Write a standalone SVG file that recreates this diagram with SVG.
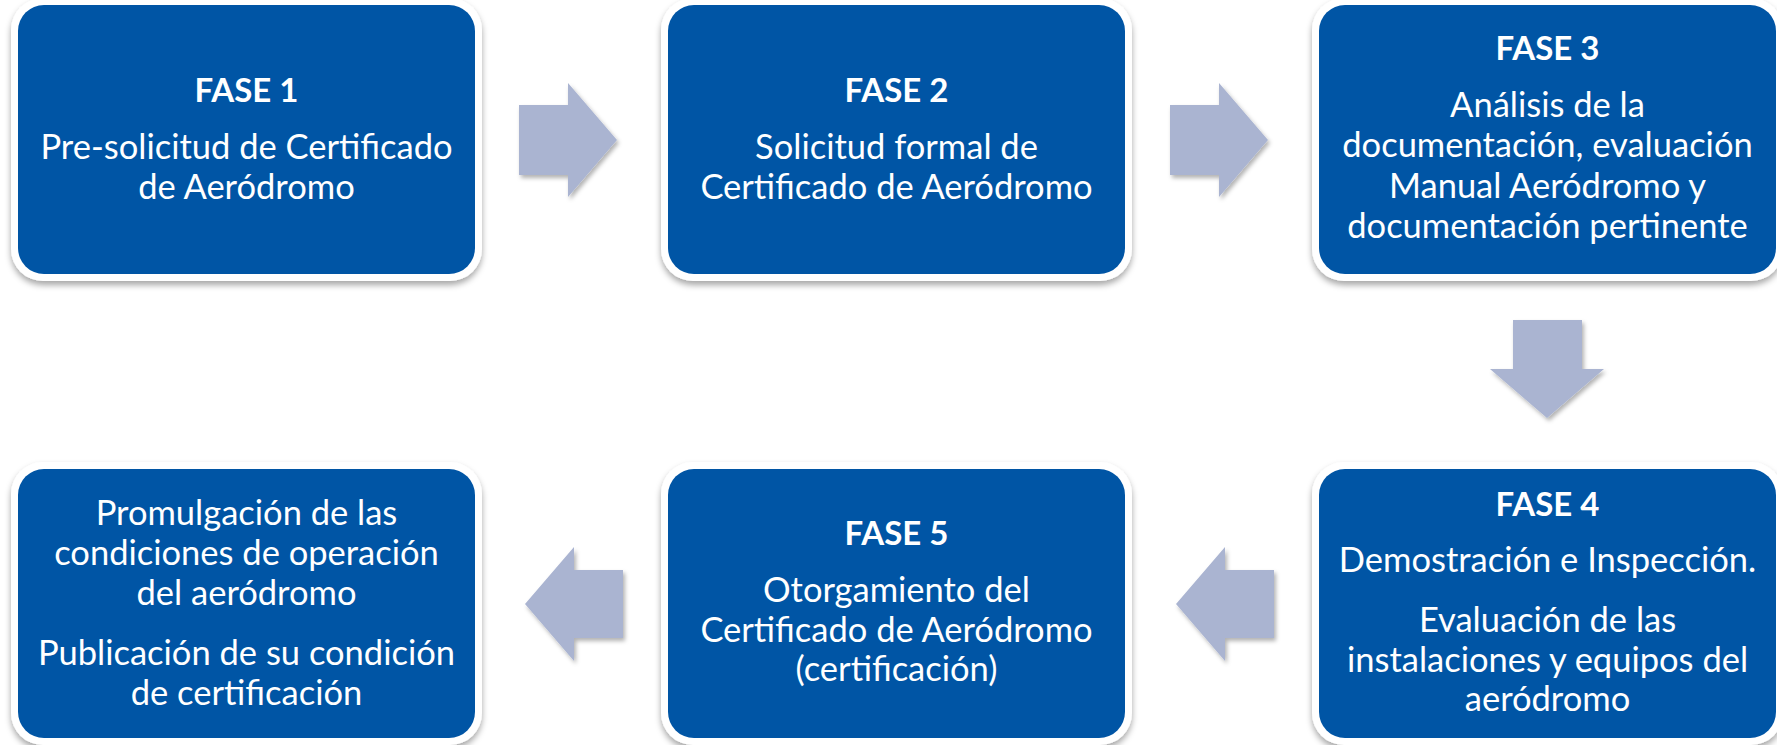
<svg xmlns="http://www.w3.org/2000/svg" width="1777" height="745" viewBox="0 0 1777 745">
<defs>
<filter id="bsh" x="-5%" y="-5%" width="110%" height="112%">
<feDropShadow dx="0" dy="4" stdDeviation="3" flood-color="#000" flood-opacity="0.35"/>
</filter>
<filter id="ash" x="-10%" y="-10%" width="125%" height="125%">
<feDropShadow dx="2" dy="3" stdDeviation="2" flood-color="#000" flood-opacity="0.3"/>
</filter>
</defs>
<style>
.outer{fill:#ffffff;filter:url(#bsh)}
.box{fill:#0055A5}
.t{font-family:Lato,"Liberation Sans",sans-serif;font-size:34.5px;fill:#ffffff;text-anchor:middle}
.h{font-weight:bold;font-size:33px}
.arrow{fill:#AAB4D1;filter:url(#ash)}
</style>
<rect width="1777" height="745" fill="#ffffff"/>

<g id="connectors">
<polygon class="arrow" points="519,105 568,105 568,83 617,140 568,197 568,175 519,175"/>
<polygon class="arrow" points="1170,105 1219,105 1219,83 1268,140 1219,197 1219,175 1170,175"/>
<polygon class="arrow" points="1513,320 1582,320 1582,369 1604,369 1547,418 1490,369 1513,369"/>
<polygon class="arrow" points="1274,570 1225,570 1225,547 1176,604 1225,661 1225,638 1274,638"/>
<polygon class="arrow" points="623,570 574,570 574,547 525,604 574,661 574,638 623,638"/>
</g>

<g id="fase1">
<rect class="outer" x="11" y="-2" width="471" height="283" rx="32"/>
<rect class="box" x="18" y="5" width="457" height="269" rx="26"/>
<text class="t h" x="246.5" y="102">FASE 1</text>
<text class="t" x="246.5" y="159">Pre-solicitud de Certificado</text>
<text class="t" x="246.5" y="199">de Aeródromo</text>
</g>

<g id="fase2">
<rect class="outer" x="661" y="-2" width="471" height="283" rx="32"/>
<rect class="box" x="668" y="5" width="457" height="269" rx="26"/>
<text class="t h" x="896.5" y="102">FASE 2</text>
<text class="t" x="896.5" y="159">Solicitud formal de</text>
<text class="t" x="896.5" y="199">Certificado de Aeródromo</text>
</g>

<g id="fase3">
<rect class="outer" x="1312" y="-2" width="471" height="283" rx="32"/>
<rect class="box" x="1319" y="5" width="457" height="269" rx="26"/>
<text class="t h" x="1547.5" y="60">FASE 3</text>
<text class="t" x="1547.5" y="117">Análisis de la</text>
<text class="t" x="1547.5" y="157">documentación, evaluación</text>
<text class="t" x="1547.5" y="198">Manual Aeródromo y</text>
<text class="t" x="1547.5" y="238">documentación pertinente</text>
</g>

<g id="fase4">
<rect class="outer" x="1312" y="462" width="471" height="283" rx="32"/>
<rect class="box" x="1319" y="469" width="457" height="269" rx="26"/>
<text class="t h" x="1547.5" y="516">FASE 4</text>
<text class="t" x="1547.5" y="572">Demostración e Inspección.</text>
<text class="t" x="1547.5" y="632">Evaluación de las</text>
<text class="t" x="1547.5" y="672">instalaciones y equipos del</text>
<text class="t" x="1547.5" y="711">aeródromo</text>
</g>

<g id="fase5">
<rect class="outer" x="661" y="462" width="471" height="283" rx="32"/>
<rect class="box" x="668" y="469" width="457" height="269" rx="26"/>
<text class="t h" x="896.5" y="545">FASE 5</text>
<text class="t" x="896.5" y="602">Otorgamiento del</text>
<text class="t" x="896.5" y="642">Certificado de Aeródromo</text>
<text class="t" x="896.5" y="681">(certificación)</text>
</g>

<g id="promulgacion">
<rect class="outer" x="11" y="462" width="471" height="283" rx="32"/>
<rect class="box" x="18" y="469" width="457" height="269" rx="26"/>
<text class="t" x="246.5" y="525">Promulgación de las</text>
<text class="t" x="246.5" y="565">condiciones de operación</text>
<text class="t" x="246.5" y="605">del aeródromo</text>
<text class="t" x="246.5" y="665">Publicación de su condición</text>
<text class="t" x="246.5" y="705">de certificación</text>
</g>
</svg>
